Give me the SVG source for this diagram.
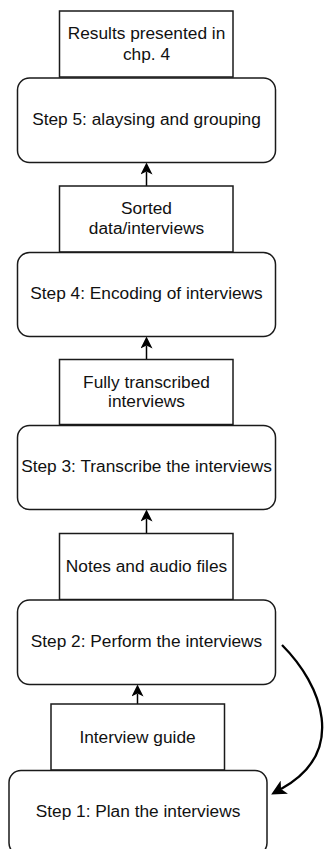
<svg xmlns="http://www.w3.org/2000/svg" width="324" height="849" viewBox="0 0 324 849">
  <style>
    .bg { fill: #ffffff; }
    .step rect, .data rect { fill: #ffffff; stroke: #1a1a1a; stroke-width: 1.5; }
    text { font-family: "Liberation Sans", Arial, sans-serif; font-size: 17.3px; fill: #111111; text-anchor: middle; }
    .conn { fill: none; stroke: #000000; stroke-width: 1.5; }
    .conn.loop { stroke-width: 2.3; }
  </style>
  <defs>
    <!-- classic notched arrowhead; refX sits at the notch so the line ends inside the head -->
    <marker id="arrow" viewBox="0 0 12 12" refX="3" refY="6" markerWidth="12" markerHeight="12" markerUnits="userSpaceOnUse" orient="auto">
      <path d="M0,0 L12,6 L0,12 L3,6 Z" fill="#000000"/>
    </marker>
    <marker id="arrow-lg" viewBox="0 0 12 12" refX="3" refY="6" markerWidth="15" markerHeight="15" markerUnits="userSpaceOnUse" orient="auto">
      <path d="M0,0 L12,6 L0,12 L3,6 Z" fill="#000000"/>
    </marker>
  </defs>

  <rect class="bg" x="0" y="0" width="324" height="849"/>

  <!-- connectors -->
  <g id="connectors">
    <line class="conn" x1="146.5" y1="186" x2="146.5" y2="171.5" marker-end="url(#arrow)"/>
    <line class="conn" x1="146.5" y1="359.5" x2="146.5" y2="345.5" marker-end="url(#arrow)"/>
    <line class="conn" x1="146.5" y1="533.5" x2="146.5" y2="518.5" marker-end="url(#arrow)"/>
    <line class="conn" x1="137.5" y1="704" x2="137.5" y2="693.5" marker-end="url(#arrow)"/>
    <path class="conn loop" d="M282,645 C322,685 348,752 281,789" marker-end="url(#arrow-lg)"/>
  </g>

  <!-- data / output boxes -->
  <g id="results" class="data">
    <rect x="59.5" y="11" width="173.5" height="66"/>
    <text x="146.5" y="39">Results presented in</text>
    <text x="146.5" y="60">chp. 4</text>
  </g>
  <g id="sorted" class="data">
    <rect x="59.5" y="186" width="173.5" height="66"/>
    <text x="146.5" y="214">Sorted</text>
    <text x="146.5" y="234">data/interviews</text>
  </g>
  <g id="transcribed" class="data">
    <rect x="59.5" y="359.5" width="173.5" height="65"/>
    <text x="146.5" y="387.5">Fully transcribed</text>
    <text x="146.5" y="407">interviews</text>
  </g>
  <g id="notes" class="data">
    <rect x="59.5" y="533.5" width="173.5" height="66"/>
    <text x="146.5" y="572">Notes and audio files</text>
  </g>
  <g id="guide" class="data">
    <rect x="51" y="704" width="173.5" height="66"/>
    <text x="137.5" y="742.5">Interview guide</text>
  </g>

  <!-- process steps -->
  <g id="step5" class="step">
    <rect x="17.5" y="78" width="258" height="84.5" rx="12" ry="12"/>
    <text x="146.5" y="125">Step 5: alaysing and grouping</text>
  </g>
  <g id="step4" class="step">
    <rect x="17.5" y="252.5" width="258" height="84" rx="12" ry="12"/>
    <text x="146.5" y="299">Step 4: Encoding of interviews</text>
  </g>
  <g id="step3" class="step">
    <rect x="17.5" y="425.5" width="258" height="84" rx="12" ry="12"/>
    <text x="146.5" y="472">Step 3: Transcribe the interviews</text>
  </g>
  <g id="step2" class="step">
    <rect x="17.5" y="600" width="258" height="84.5" rx="12" ry="12"/>
    <text x="146.5" y="647">Step 2: Perform the interviews</text>
  </g>
  <g id="step1" class="step">
    <rect x="9" y="770.5" width="258" height="84.5" rx="12" ry="12"/>
    <text x="138" y="817">Step 1: Plan the interviews</text>
  </g>
</svg>
